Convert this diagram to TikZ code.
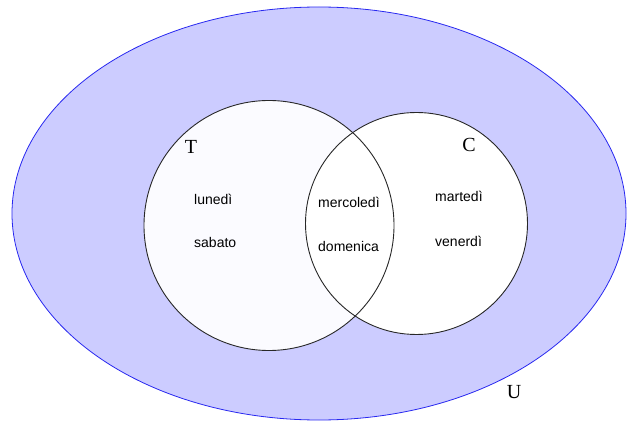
\documentclass[tikz,border=0pt]{standalone}
\usepackage{fontspec}
\setmainfont{Liberation Serif}
\setsansfont{Liberation Sans}
\definecolor{universe}{RGB}{204,204,255}
\definecolor{universeline}{RGB}{40,40,240}
\definecolor{setline}{RGB}{40,40,40}
\definecolor{tfill}{RGB}{251,251,255}
\begin{document}
\begin{tikzpicture}[x=1pt,y=1pt,
  setname/.style={inner sep=0pt,anchor=base,font=\fontsize{20}{20}\selectfont},
  day/.style={inner sep=0pt,anchor=base west,font=\sffamily\fontsize{14}{14}\selectfont},
  setborder/.style={draw=setline,line width=0.9pt}]
\useasboundingbox (0,0) rectangle (627,421);
% universe U
\fill[universe] (319,207.5) ellipse [x radius=307pt, y radius=206.5pt];
\draw[universeline,line width=0.8pt] (319,207.5) ellipse [x radius=307pt, y radius=206.5pt];
% sets T and C: fills first, then both outlines
\fill[tfill] (269,195.5) circle [radius=125pt];
\fill[white] (416.5,197.5) circle [radius=111pt];
\draw[setborder] (269,195.5) circle [radius=125pt];
\draw[setborder] (416.5,197.5) circle [radius=111pt];
% set names
\node[setname] (nT) at (191,267) {T};
\node[setname] (nC) at (469,269) {C};
\node[setname] (nU) at (514,23) {U};
% elements
\node[day] (lun) at (194,216) {lunedì};
\node[day] (sab) at (194,173) {sabato};
\node[day] (mer) at (318,213) {mercoledì};
\node[day] (dom) at (318,169) {domenica};
\node[day] (mar) at (435,219) {martedì};
\node[day] (ven) at (435,174) {venerdì};
\end{tikzpicture}
\end{document}
